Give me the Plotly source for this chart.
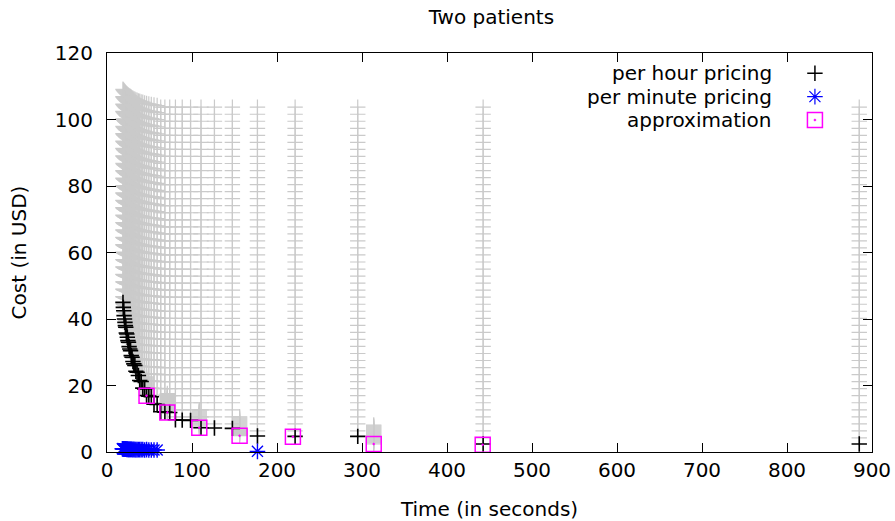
import numpy as np
import plotly.graph_objects as go

# ---------------- data ----------------
# per hour pricing: time (s) vs cost (USD) for each machine count
hour_time = [885, 442.5, 295, 221.3, 177, 147.5, 126.4, 110.6, 98.3, 88.5,
             80.5, 73.8, 68.1, 63.2, 59, 55.3, 52.1, 49.2, 46.6, 44.3,
             42.1, 40.2, 38.5, 36.9, 35.4, 34.0, 32.8, 31.6, 30.5, 29.5,
             28.5, 27.7, 26.8, 26.0, 25.3, 24.6, 23.9, 23.3, 22.7, 22.1,
             21.6, 21.1, 20.6, 20.1, 19.7, 19.2, 18.8]
hour_cost = [2.4, 2.4, 4.7, 4.7, 4.8, 7.1, 7.2, 7.3, 9.5, 9.6,
             9.7, 11.9, 12.0, 12.1, 14.3, 14.4, 16.6, 16.8, 17.0, 19.0,
             19.2, 21.2, 21.5, 23.0, 24.0, 24.3, 26.0, 26.5, 27.2, 28.5,
             29.0, 30.5, 31.0, 31.7, 33.0, 33.5, 34.5, 35.5, 35.8, 37.5,
             38.0, 39.0, 40.0, 41.0, 42.5, 43.5, 45.0]
# highest cost reached by the grey candidate configurations in each column
grey_top = [103.7] * 14 + [
    104.2, 104.4, 104.5, 104.7, 104.8, 105.0, 105.2, 105.3, 105.5, 105.6,
    105.8, 105.9, 106.1, 106.2, 106.4, 106.5, 106.7, 106.8, 107.0, 107.1,
    107.3, 107.4, 107.6, 107.7, 107.9, 108.0, 108.2, 108.3, 108.5, 108.6,
    108.8, 108.9, 109.1]
grey_levels_per_column = 49

# per minute pricing
minute_time = [177, 59, 55.3, 52.1, 49.2, 46.6, 44.3, 42.1, 40.2, 38.5, 36.9,
               35.4, 34.0, 32.8, 31.6, 30.5, 29.5, 28.5, 27.7, 26.8, 26.0,
               25.3, 24.6, 23.9, 23.3, 22.7, 22.1, 21.6, 21.1, 20.6, 20.1,
               19.7, 19.2, 18.8, 18.4, 18.1]
minute_cost = [0.2, 0.6, 0.6, 0.6, 0.6, 0.7, 0.6, 0.7, 0.7, 0.7, 0.7,
               0.7, 0.7, 0.7, 0.8, 0.7, 0.8, 0.8, 0.8, 0.8, 0.8,
               0.8, 0.8, 0.9, 0.8, 0.9, 0.9, 0.9, 0.9, 0.9, 0.9,
               0.9, 1.0, 1.0, 1.0, 1.0]

# approximation
approx_time = [46.5, 71, 108.6, 156, 218.7, 313.8, 442]
approx_cost = [16.9, 11.9, 7.3, 4.9, 4.6, 2.4, 2.2]
approx_spread = [6, 6, 5.5, 6, 0, 6, 0]   # extent of grey candidates above each

series_names = ["per hour pricing", "per minute pricing", "approximation"]

# ---------------- grey candidate cloud ----------------
gx, gy = [], []
for x, c, top in zip(hour_time, hour_cost, grey_top):
    lv = np.arange(1, grey_levels_per_column + 1) * top / grey_levels_per_column
    lv = lv[lv > c + 0.8]
    gx.extend([x] * len(lv))
    gy.extend(lv.tolist())
for x, c, s in zip(approx_time, approx_cost, approx_spread):
    if s > 0:
        lv = np.arange(c, c + s, 0.3)
        gx.extend([x] * len(lv))
        gy.extend(lv.tolist())

FONT = "DejaVu Sans"
FS = 20
GREY = "rgb(202,202,202)"
fig = go.Figure()

fig.add_trace(go.Scatter(
    x=gx, y=gy, mode="markers", showlegend=False, hoverinfo="skip", cliponaxis=False,
    marker=dict(symbol="cross-thin", size=11, color=GREY,
                line=dict(color=GREY, width=1.2))))

fig.add_trace(go.Scatter(
    x=hour_time, y=hour_cost, mode="markers", name=series_names[0], showlegend=False,
    cliponaxis=False,
    marker=dict(symbol="cross-thin", size=11, color="black",
                line=dict(color="black", width=1.6))))

fig.add_trace(go.Scatter(
    x=minute_time, y=minute_cost, mode="markers", name=series_names[1], showlegend=False,
    cliponaxis=False,
    marker=dict(symbol="asterisk", size=13, color="#0000ff",
                line=dict(color="#0000ff", width=1.4))))

fig.add_trace(go.Scatter(
    x=approx_time, y=approx_cost, mode="markers", name=series_names[2], showlegend=False,
    cliponaxis=False,
    marker=dict(symbol="square-open-dot", size=15, color="#ff00ff",
                line=dict(color="#ff00ff", width=1.5))))

# ---------------- custom gnuplot-like legend ----------------
leg_y = [0.9492, 0.8906, 0.8322]
leg_sym = [("cross-thin", 11, "black", 1.5), ("asterisk", 13, "#0000ff", 1.2),
           ("square-open-dot", 15, "#ff00ff", 1.5)]
for name, yy, (sym, sz, col, lw) in zip(series_names, leg_y, leg_sym):
    fig.add_annotation(text=name, xref="paper", yref="paper", x=0.872, y=yy,
                       xanchor="right", yanchor="middle", showarrow=False,
                       font=dict(family=FONT, size=FS, color="black"))
    fig.add_trace(go.Scatter(
        x=[0.9254], y=[yy], xaxis="x2", yaxis="y2", mode="markers",
        showlegend=False, hoverinfo="skip", cliponaxis=False,
        marker=dict(symbol=sym, size=sz, color=col, line=dict(color=col, width=lw))))

axis_common = dict(showgrid=False, zeroline=False, showline=True, linecolor="black",
                   linewidth=1, mirror="ticks", ticks="inside", ticklen=9,
                   tickcolor="black", tickwidth=1, automargin=False,
                   tickfont=dict(family=FONT, size=FS, color="black"))

fig.update_layout(
    width=895, height=521,
    paper_bgcolor="white", plot_bgcolor="white",
    margin=dict(l=107, r=23, t=53, b=69, autoexpand=False),
    font=dict(family=FONT, size=FS, color="black"),
    title=dict(text="Two patients", x=0.549, xref="container", xanchor="center",
               y=0.967, yref="container", yanchor="middle",
               font=dict(family=FONT, size=FS, color="black")),
    xaxis=dict(range=[0, 900], dtick=100, tick0=0,
               title=dict(text="Time (in seconds)", standoff=24,
                          font=dict(family=FONT, size=FS)), **axis_common),
    yaxis=dict(range=[0, 120], dtick=20, tick0=0, ticklabelstandoff=9,
               title=dict(text="Cost (in USD)", standoff=22,
                          font=dict(family=FONT, size=FS)), **axis_common),
    xaxis2=dict(range=[0, 1], overlaying="x", visible=False, anchor="y2"),
    yaxis2=dict(range=[0, 1], overlaying="y", visible=False, anchor="x2"),
)

fig.write_html("out.html")
